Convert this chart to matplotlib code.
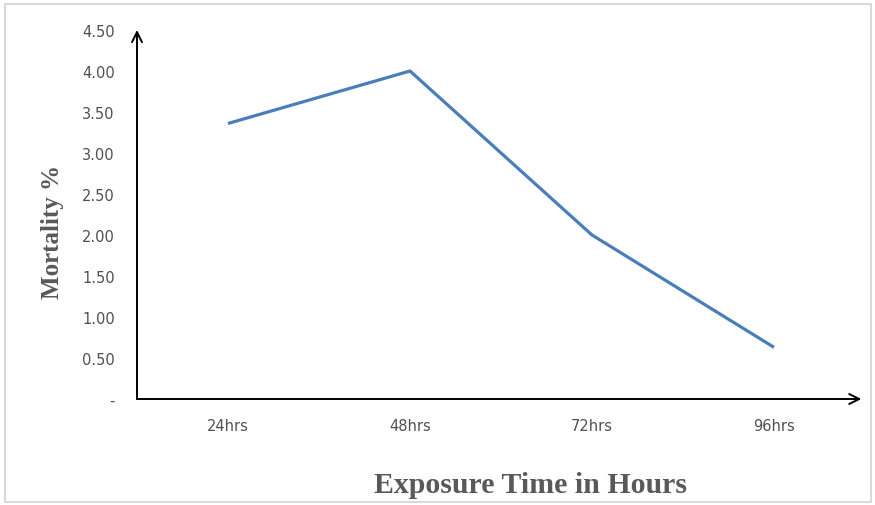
import matplotlib.pyplot as plt
from matplotlib.patches import Rectangle

# data
hours = ['24hrs', '48hrs', '72hrs', '96hrs']
mortality = [3.36, 4.00, 2.00, 0.63]
y_ticks = [0, 0.5, 1.0, 1.5, 2.0, 2.5, 3.0, 3.5, 4.0, 4.5]
y_tick_labels = ['-', '0.50', '1.00', '1.50', '2.00', '2.50', '3.00', '3.50', '4.00', '4.50']

fig = plt.figure(figsize=(8.75, 5.06), dpi=100)
ax = fig.add_axes([137 / 875, 1 - 400 / 506, 728 / 875, 369 / 506])

x = [i + 0.5 for i in range(len(hours))]
ax.plot(x, mortality, color='#4a7ebb', linewidth=2.3, solid_capstyle='butt')

ax.set_xlim(0, 4)
ax.set_ylim(0, 4.5)
ax.set_xticks(x)
ax.set_xticklabels(hours)
ax.set_yticks(y_ticks)
ax.set_yticklabels(y_tick_labels)
ax.tick_params(length=0, labelcolor='#505050')
ax.tick_params(axis='y', pad=16)
ax.tick_params(axis='x', pad=14)
for lbl in ax.get_xticklabels() + ax.get_yticklabels():
    lbl.set_family('DejaVu Sans')
    lbl.set_fontsize(10.5)
for s in ax.spines.values():
    s.set_visible(False)

# axes drawn as arrows
arrow = dict(arrowstyle='->', color='black', lw=1.4, mutation_scale=18, shrinkA=0, shrinkB=0)
ax.annotate('', xy=(0, 4.5), xytext=(0, 0), arrowprops=arrow, annotation_clip=False)
ax.annotate('', xy=(3.98, 0), xytext=(0, 0), arrowprops=arrow, annotation_clip=False)

fig.text(52 / 875, 1 - 232 / 506, 'Mortality %', rotation=90, ha='center', va='center',
         family='Liberation Serif', fontweight='bold', fontsize=18, color='#595959')
fig.text(531 / 875, 1 - 486 / 506, 'Exposure Time in Hours', ha='center', va='center',
         family='Liberation Serif', fontweight='bold', fontsize=21.5, color='#595959')

# light frame around the chart area
fig.patches.append(Rectangle((5 / 875, 3 / 506), 866 / 875, 498 / 506, transform=fig.transFigure,
                             fill=False, edgecolor='#d9d9d9', linewidth=1.5))

fig.savefig('out.png', dpi=100)
